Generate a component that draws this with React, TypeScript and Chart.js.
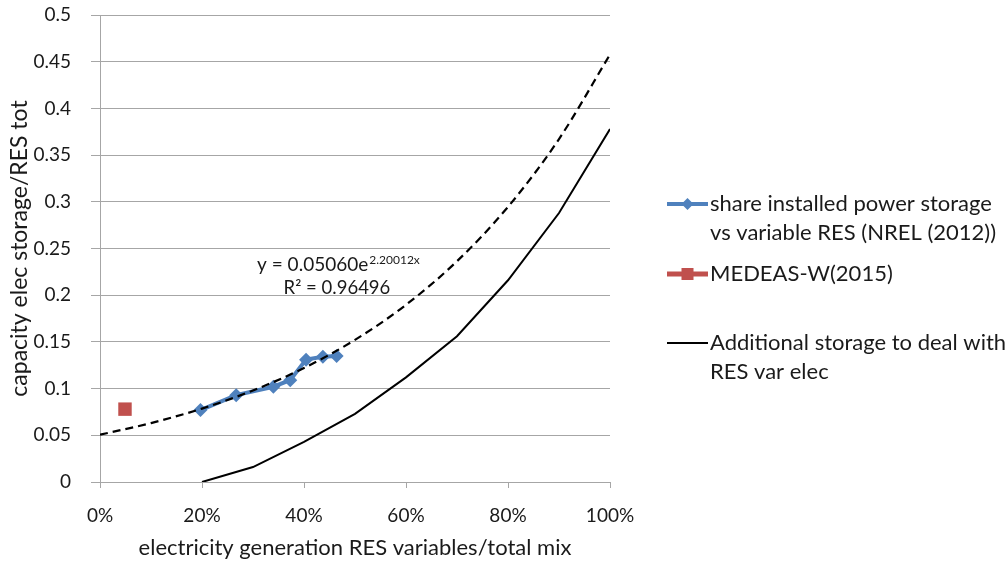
import React, { useEffect, useRef } from "react";
import { Chart, registerables } from "chart.js";

Chart.register(...registerables);

// ---- data ----
const shareX = [0.197, 0.267, 0.34, 0.373, 0.404, 0.437, 0.464];
const shareY = [0.077, 0.093, 0.102, 0.109, 0.131, 0.134, 0.135];

const medeasX = [0.049];
const medeasY = [0.078];

const additionalX = [0.2, 0.3, 0.4, 0.5, 0.6, 0.7, 0.8, 0.9, 1.0];
const additionalY = [0, 0.016, 0.043, 0.073, 0.112, 0.156, 0.216, 0.288, 0.378];

const trendX = [0, 0.1, 0.2, 0.3, 0.4, 0.5, 0.6, 0.7, 0.8, 0.9, 1.0];
const trendY = [0.0506, 0.0631, 0.0786, 0.098, 0.1221, 0.1522, 0.1897, 0.2364, 0.2946, 0.3672, 0.4577];

const seriesNames = [
  "share installed power storage vs variable RES (NREL (2012))",
  "MEDEAS-W(2015)",
  "Additional storage to deal with RES var elec",
];
const legendLines = [
  ["share installed power storage", "vs variable RES (NREL (2012))"],
  ["MEDEAS-W(2015)"],
  ["Additional storage to deal with", "RES var elec"],
];
const equationText = "y = 0.05060e";
const equationExp = "2.20012x";
const r2Text = "R\u00B2 = 0.96496";

const xTitle = "electricity generation RES variables/total mix";
const yTitle = "capacity elec storage/RES tot";

const BLUE = "#4f81bd";
const RED = "#c0504d";
const BLACK = "#000000";
const TEXT = "#1a1a1a";
const GRID = "#a6a6a6";
const FONT = "Lato, 'Noto Sans', sans-serif";

const toPts = (xs: number[], ys: number[]) => xs.map((x, i) => ({ x, y: ys[i] }));

const overlayPlugin = {
  id: "overlay",
  afterDraw(chart: any) {
    const ctx = chart.ctx as CanvasRenderingContext2D;
    const xs = chart.scales.x;
    const ys = chart.scales.y;
    ctx.save();
    // trendline equation
    ctx.fillStyle = TEXT;
    ctx.textBaseline = "middle";
    ctx.textAlign = "left";
    ctx.font = `19px ${FONT}`;
    const ex = xs.getPixelForValue(0.308);
    const ey = ys.getPixelForValue(0.2325);
    ctx.fillText(equationText, ex, ey);
    const w = ctx.measureText(equationText).width;
    ctx.font = `12px ${FONT}`;
    ctx.fillText(equationExp, ex + w + 1, ey - 5);
    ctx.font = `18.5px ${FONT}`;
    ctx.fillText(r2Text, xs.getPixelForValue(0.36), ys.getPixelForValue(0.2075));

    // legend
    const right = chart.chartArea.right;
    const sx0 = right + 57;
    const sx1 = right + 98;
    const tx = right + 100;
    const lineH = 29;
    const rows = [204, 274, 343];
    const styles = [
      { color: BLUE, width: 4, marker: "diamond" },
      { color: RED, width: 5, marker: "square" },
      { color: BLACK, width: 2, marker: "none" },
    ];
    ctx.font = `22px ${FONT}`;
    legendLines.forEach((lines, i) => {
      const y = rows[i];
      const st = styles[i];
      ctx.strokeStyle = st.color;
      ctx.lineWidth = st.width;
      ctx.beginPath();
      ctx.moveTo(sx0, y);
      ctx.lineTo(sx1, y);
      ctx.stroke();
      const cx = (sx0 + sx1) / 2;
      ctx.fillStyle = st.color;
      if (st.marker === "diamond") {
        ctx.beginPath();
        ctx.moveTo(cx, y - 6);
        ctx.lineTo(cx + 6, y);
        ctx.lineTo(cx, y + 6);
        ctx.lineTo(cx - 6, y);
        ctx.closePath();
        ctx.fill();
      } else if (st.marker === "square") {
        ctx.fillRect(cx - 6, y - 6, 12, 12);
      }
      ctx.fillStyle = TEXT;
      lines.forEach((t, j) => ctx.fillText(t, tx, y + j * lineH));
    });
    ctx.restore();
  },
};

export default function App() {
  const ref = useRef<HTMLCanvasElement | null>(null);
  useEffect(() => {
    if (!ref.current) return;
    const chart = new Chart(ref.current, {
      type: "scatter",
      data: {
        datasets: [
          {
            label: "trend",
            data: toPts(trendX, trendY),
            showLine: true,
            borderColor: BLACK,
            borderWidth: 2.2,
            borderDash: [8, 5],
            pointRadius: 0,
            cubicInterpolationMode: "monotone",
            order: 0,
          },
          {
            label: seriesNames[0],
            data: toPts(shareX, shareY),
            showLine: true,
            borderColor: BLUE,
            backgroundColor: BLUE,
            borderWidth: 4,
            pointStyle: "rectRot",
            pointRadius: 7,
            pointBorderWidth: 0,
            order: 1,
          },
          {
            label: seriesNames[1],
            data: toPts(medeasX, medeasY),
            showLine: false,
            borderColor: RED,
            backgroundColor: RED,
            pointStyle: "rect",
            pointRadius: 9.5,
            pointBorderWidth: 0,
            order: 2,
          },
          {
            label: seriesNames[2],
            data: toPts(additionalX, additionalY),
            showLine: true,
            borderColor: BLACK,
            borderWidth: 2,
            pointRadius: 0,
            order: 3,
          },
        ],
      },
      options: {
        animation: false,
        responsive: false,
        layout: { padding: { left: 0, top: 15, right: 398, bottom: 0 } },
        plugins: {
          legend: { display: false },
          tooltip: { enabled: false },
        },
        scales: {
          x: {
            type: "linear",
            min: 0,
            max: 1,
            afterFit: (s: any) => {
              s.height = 79;
            },
            ticks: {
              stepSize: 0.2,
              callback: (v: any) => `${Math.round(Number(v) * 100)}%`,
              font: { family: FONT, size: 19 },
              color: TEXT,
              padding: 16,
              maxRotation: 0,
            },
            grid: { drawOnChartArea: false, drawTicks: true, tickLength: 6, color: GRID },
            border: { display: true, color: GRID },
            title: {
              display: true,
              text: xTitle,
              font: { family: FONT, size: 22 },
              color: TEXT,
              padding: { top: 0, bottom: 0 },
            },
          },
          y: {
            type: "linear",
            min: 0,
            max: 0.5,
            afterFit: (s: any) => {
              s.width = 100;
              s.paddingTop = 0;
              s.paddingBottom = 0;
            },
            ticks: {
              stepSize: 0.05,
              callback: (v: any) => String(Math.round(Number(v) * 100) / 100),
              font: { family: FONT, size: 19 },
              color: TEXT,
              padding: 20,
            },
            grid: { drawOnChartArea: true, drawTicks: true, tickLength: 9, color: GRID },
            border: { display: true, color: GRID },
            title: {
              display: true,
              text: yTitle,
              font: { family: FONT, size: 23 },
              color: TEXT,
              padding: { top: 6, bottom: 0 },
            },
          },
        },
      },
      plugins: [overlayPlugin],
    } as any);
    return () => chart.destroy();
  }, []);
  return (
    <div style={{ position: "absolute", left: 0, top: 0, width: 1008, height: 561, background: "#fff" }}>
      <canvas ref={ref} width={1008} height={561} />
    </div>
  );
}
